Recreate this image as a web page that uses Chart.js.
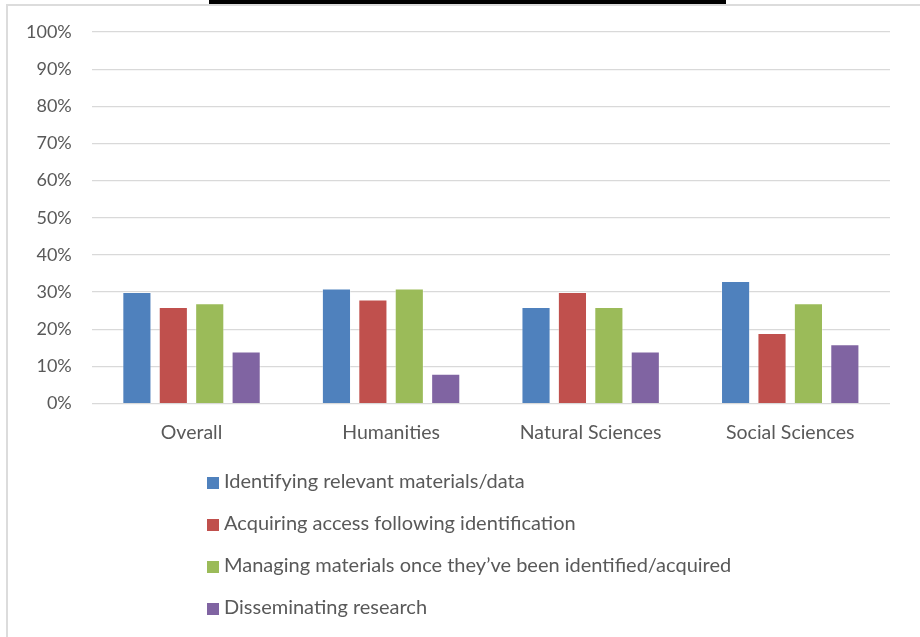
<!DOCTYPE html>
<html>
<head>
<meta charset="utf-8">
<script src="https://cdn.jsdelivr.net/npm/chart.js@4"></script>
<style>
  html, body { margin: 0; padding: 0; background: #fff; }
  #wrap { position: relative; width: 920px; height: 637px; overflow: hidden; }
  #frame { position: absolute; left: 6px; top: 4px; width: 940px; height: 660px; border: 2px solid #dcdcdc; box-sizing: border-box; }
  #titlebar { position: absolute; left: 209px; top: 0; width: 517px; height: 4px; background: #000; }
  #chart { position: absolute; left: 0; top: 0; }
  #legend { position: absolute; left: 207px; top: 466px; font-family: Lato, sans-serif; font-size: 20px; color: #595959; }
  #legend div { height: 42px; line-height: 28px; }
  #legend span.box { display: inline-block; width: 12px; height: 12px; margin-right: 5px; vertical-align: -1px; }
</style>
</head>
<body>
<div id="wrap">
  <div id="frame"></div>
  <div id="titlebar"></div>
  <canvas id="chart" width="920" height="637"></canvas>
  <div id="legend"></div>
</div>
<script>
// categories and values
const categories = ['Overall', 'Humanities', 'Natural Sciences', 'Social Sciences'];
const seriesNames = [
  'Identifying relevant materials/data',
  'Acquiring access following identification',
  'Managing materials once they\u2019ve been identified/acquired',
  'Disseminating research'
];
const identifying = [30, 31, 26, 33];
const acquiring = [26, 28, 30, 19];
const managing = [27, 31, 26, 27];
const disseminating = [14, 8, 14, 16];
const colors = ['#4f81bd', '#c0504d', '#9bbb59', '#8064a2'];

const ctx = document.getElementById('chart').getContext('2d');
const seriesValues = [identifying, acquiring, managing, disseminating];

const chart = new Chart(ctx, {
  type: 'bar',
  data: {
    labels: categories,
    datasets: seriesValues.map((vals, i) => ({
      label: seriesNames[i],
      data: vals,
      backgroundColor: colors[i],
      borderColor: 'rgba(255,255,255,0.35)',
      borderWidth: 1,
      categoryPercentage: 0.73,
      barPercentage: 0.8
    }))
  },
  options: {
    responsive: false,
    animation: false,
    layout: { padding: { left: 6, right: 30, top: 32, bottom: 176 } },
    plugins: {
      legend: { display: false },
      tooltip: { enabled: false }
    },
    scales: {
      x: {
        grid: { display: false, drawTicks: false },
        border: { display: false },
        ticks: { color: '#595959', padding: 17, font: { family: 'Lato', size: 19.5 } }
      },
      y: {
        min: 0,
        max: 100,
        ticks: {
          stepSize: 10,
          color: '#595959',
          padding: 20,
          font: { family: 'Lato', size: 18 },
          callback: v => v + '%'
        },
        grid: { color: '#d9d9d9', lineWidth: 1.3, drawTicks: false },
        border: { display: false }
      }
    }
  }
});

// vertical legend under the plot
const legend = document.getElementById('legend');
chart.data.datasets.forEach(ds => {
  const row = document.createElement('div');
  const box = document.createElement('span');
  box.className = 'box';
  box.style.background = ds.backgroundColor;
  row.appendChild(box);
  row.appendChild(document.createTextNode(ds.label));
  legend.appendChild(row);
});
</script>
</body>
</html>
